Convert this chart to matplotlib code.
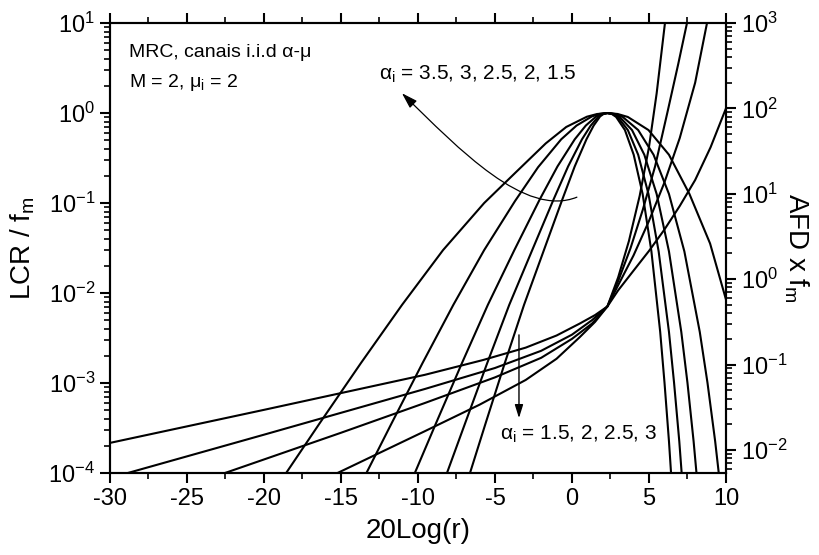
"""
LCR and AFD of MRC receivers over i.i.d. alpha-mu channels (M = 2, mu = 2).
LCR curves on the left axis, AFD curves on the right axis.
"""
import matplotlib
matplotlib.use("Agg")
import matplotlib.pyplot as plt
from matplotlib.path import Path
from matplotlib.patches import FancyArrowPatch
from matplotlib.ticker import LogLocator, MultipleLocator, NullFormatter

plt.rcParams["font.family"] = ["Liberation Sans", "DejaVu Sans"]
plt.rcParams["mathtext.default"] = "regular"

# ==================== data ====================

# LCR / f_m  (left axis)
lcr_x_a15 = [-19.03, -16.37, -13.70, -11.03, -8.37, -5.70, -3.70, -1.70, -0.37, 0.97, 1.63,
             2.30, 2.97, 3.63, 4.97, 6.30, 7.63, 8.97, 10.30]
lcr_y_a15 = [7.6e-5, 3.6e-4, 1.67e-3, 7.4e-3, 0.030, 0.100, 0.215, 0.46, 0.70, 0.91, 0.975,
             1.0, 0.976, 0.904, 0.647, 0.344, 0.126, 0.0355, 5.6e-3]

lcr_x_a20 = [-13.7, -11.7, -9.7, -7.7, -5.7, -3.7, -2.2, -0.7, 0.3, 1.3, 1.8,
             2.3, 2.8, 3.3, 4.3, 5.3, 6.3, 7.3, 8.3, 8.8, 9.3, 9.8]
lcr_y_a20 = [7.6e-5, 3.6e-4, 1.67e-3, 7.4e-3, 0.030, 0.105, 0.25, 0.51, 0.726, 0.918, 0.978,
             1.0, 0.976, 0.904, 0.647, 0.344, 0.126, 0.029, 3.7e-3, 1.01e-3, 2.25e-4, 3.95e-5]

lcr_x_a25 = [-10.5, -8.82, -7.14, -5.46, -3.74, -2.1, -0.94, 0.18, 0.9, 1.58, 1.94,
             2.3, 2.7, 3.1, 3.9, 4.7, 5.5, 6.3, 7.1, 7.5, 7.9, 8.3]
lcr_y_a25 = [7.6e-5, 3.6e-4, 1.67e-3, 7.4e-3, 0.030, 0.109, 0.255, 0.51, 0.726, 0.918, 0.978,
             1.0, 0.976, 0.904, 0.647, 0.344, 0.126, 0.029, 3.7e-3, 1.01e-3, 2.25e-4, 3.95e-5]

lcr_x_a30 = [-8.37, -6.93, -5.5, -4.07, -2.58, -1.2, -0.25, 0.65, 1.22, 1.73, 2.02,
             2.3, 2.63, 2.97, 3.63, 4.3, 4.97, 5.63, 6.3, 6.63, 6.97, 7.3]
lcr_y_a30 = [7.6e-5, 3.6e-4, 1.67e-3, 7.4e-3, 0.030, 0.109, 0.255, 0.51, 0.726, 0.918, 0.978,
             1.0, 0.976, 0.904, 0.647, 0.344, 0.126, 0.029, 3.7e-3, 1.01e-3, 2.25e-4, 3.95e-5]

lcr_x_a35 = [-6.84, -5.6, -4.36, -3.11, -1.82, -0.63, 0.18, 0.94, 1.41, 1.83, 2.06,
             2.3, 2.59, 2.87, 3.44, 4.01, 4.59, 5.16, 5.73, 6.01, 6.3, 6.59]
lcr_y_a35 = [7.6e-5, 3.6e-4, 1.67e-3, 7.4e-3, 0.030, 0.109, 0.255, 0.51, 0.726, 0.918, 0.978,
             1.0, 0.976, 0.904, 0.647, 0.344, 0.126, 0.029, 3.7e-3, 1.01e-3, 2.25e-4, 3.95e-5]

# AFD x f_m  (right axis)
afd_x_a15 = [-30, -20, -9.55, -5.78, -3.0, -1.0, 0.5, 1.5, 2.3, 3.0, 4.0, 5.0, 6.0, 7.0, 8.0, 9.0, 10.0]
afd_y_a15 = [0.0121, 0.0295, 0.0759, 0.113, 0.158, 0.219, 0.302, 0.380, 0.479, 0.74, 1.26,
             2.14, 3.8, 7.2, 14.5, 35.0, 100]

afd_x_a20 = [-28.8, -20, -9.55, -5, -2, 0, 1.3, 2.3, 3.0, 4.0, 5.0, 6.0, 7.0, 8.0, 8.77, 9.2]
afd_y_a20 = [5.4e-3, 0.0151, 0.0518, 0.0912, 0.145, 0.224, 0.331, 0.479, 0.85, 1.9, 4.8,
             13.5, 45.0, 200, 1000, 2500]

afd_x_a25 = [-22.5, -15, -9.55, -5, -2, 0, 1.3, 2.3, 3.0, 3.8, 4.6, 5.4, 6.2, 6.9, 7.47, 7.8]
afd_y_a25 = [5.4e-3, 0.0159, 0.0355, 0.0708, 0.120, 0.200, 0.302, 0.479, 0.95, 2.3, 6.5,
             21.0, 90.0, 330, 1000, 2200]

afd_x_a30 = [-15.2, -9.55, -6, -3, -1, 0.5, 1.5, 2.3, 3.0, 3.7, 4.4, 5.0, 5.5, 6.04, 6.4]
afd_y_a30 = [5.4e-3, 0.0166, 0.0339, 0.0661, 0.117, 0.209, 0.316, 0.479, 1.05, 2.8, 9.5,
             35.0, 150, 1000, 3500]

x_ticks = [-30, -25, -20, -15, -10, -5, 0, 5, 10]

# ==================== plot ====================

fig = plt.figure(figsize=(8.2, 5.55), dpi=100)
ax = fig.add_axes([0.1341, 0.1477, 0.7512, 0.8108])
ax2 = ax.twinx()

lw = 1.5
for xs, ys in [(lcr_x_a15, lcr_y_a15), (lcr_x_a20, lcr_y_a20), (lcr_x_a25, lcr_y_a25),
               (lcr_x_a30, lcr_y_a30), (lcr_x_a35, lcr_y_a35)]:
    ax.plot(xs, ys, color="black", lw=lw)
for xs, ys in [(afd_x_a15, afd_y_a15), (afd_x_a20, afd_y_a20),
               (afd_x_a25, afd_y_a25), (afd_x_a30, afd_y_a30)]:
    ax2.plot(xs, ys, color="black", lw=lw)

ax.set_xlim(-30, 10)
ax.set_yscale("log")
ax.set_ylim(1e-4, 1e1)
ax2.set_yscale("log")
ax2.set_ylim(10 ** -2.27, 1e3)

ax.set_xticks(x_ticks)
ax.set_xticklabels([str(v) for v in x_ticks])
ax.xaxis.set_minor_locator(MultipleLocator(2.5))
for a in (ax, ax2):
    a.yaxis.set_major_locator(LogLocator(base=10, numticks=12))
    a.yaxis.set_minor_locator(LogLocator(base=10, subs=range(2, 10), numticks=12))
    a.yaxis.set_minor_formatter(NullFormatter())
    for s in a.spines.values():
        s.set_linewidth(1.5)

ax.tick_params(axis="both", which="major", direction="out", length=7, width=1.5, labelsize=17)
ax.tick_params(axis="both", which="minor", direction="out", length=4, width=1.2)
ax.tick_params(axis="x", top=True, which="both")
ax2.tick_params(axis="y", which="major", direction="out", length=7, width=1.5, labelsize=17)
ax2.tick_params(axis="y", which="minor", direction="out", length=4, width=1.2)

ax.set_xlabel("20Log(r)", fontsize=20, labelpad=6)
ax.set_ylabel("LCR / f$_m$", fontsize=20, labelpad=8)
ax2.set_ylabel("AFD x f$_m$", fontsize=20, rotation=270, labelpad=17)

# annotations
ax.text(0.031, 0.924, "MRC, canais i.i.d α-μ", transform=ax.transAxes, fontsize=14, va="baseline")
ax.text(0.031, 0.858, "M = 2, μ$_i$ = 2", transform=ax.transAxes, fontsize=14, va="baseline")
ax.text(0.436, 0.873, "α$_i$ = 3.5, 3, 2.5, 2, 1.5", transform=ax.transAxes, fontsize=15, va="baseline")
ax.text(0.633, 0.073, "α$_i$ = 1.5, 2, 2.5, 3", transform=ax.transAxes, fontsize=15, va="baseline")

ax.annotate("", xy=(0.664, 0.122), xytext=(0.664, 0.307), xycoords="axes fraction",
            arrowprops=dict(arrowstyle="-|>,head_length=0.8,head_width=0.25", color="black",
                            lw=1.0, shrinkA=0, shrinkB=0))

curve = Path([(0.758, 0.613), (0.674, 0.567), (0.568, 0.718), (0.474, 0.844)],
             [Path.MOVETO, Path.CURVE4, Path.CURVE4, Path.CURVE4])
ax.add_patch(FancyArrowPatch(path=curve, transform=ax.transAxes,
                             arrowstyle="-|>,head_length=0.8,head_width=0.25",
                             mutation_scale=12, color="black", lw=0.9))

fig.savefig("out.png", dpi=100)
